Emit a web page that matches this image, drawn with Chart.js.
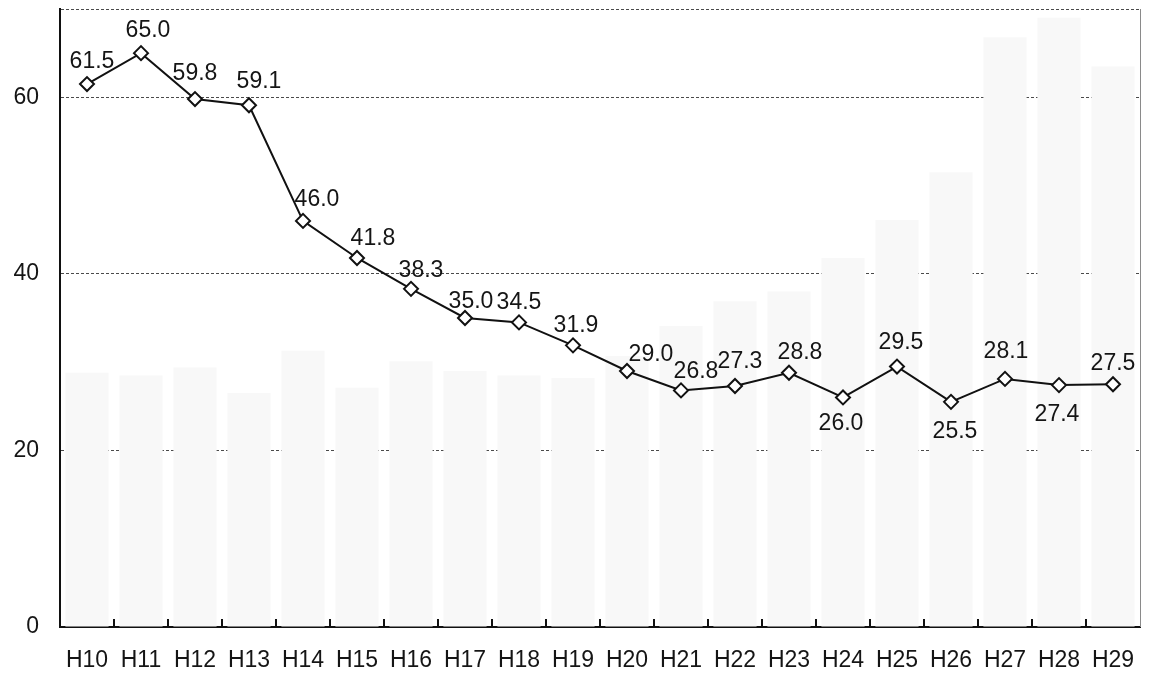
<!DOCTYPE html>
<html>
<head>
<meta charset="utf-8">
<script src="https://cdn.jsdelivr.net/npm/chart.js@4.4.0/dist/chart.umd.min.js"></script>
<style>
html,body{margin:0;padding:0;background:#fff;}
#wrap{width:1149px;height:676px;position:relative;}
</style>
</head>
<body>
<div id="wrap"><canvas id="chart"></canvas></div>
<script>
const years=["H10","H11","H12","H13","H14","H15","H16","H17","H18","H19","H20","H21","H22","H23","H24","H25","H26","H27","H28","H29"];
const rates=[61.5,65.0,59.8,59.1,46.0,41.8,38.3,35.0,34.5,31.9,29.0,26.8,27.3,28.8,26.0,29.5,25.5,28.1,27.4,27.5];
// faint columns showing through from the back of the sheet
const backBars=[28.8,28.5,29.4,26.5,31.3,27.1,30.1,29.0,28.5,28.2,30.7,34.1,36.9,38.0,41.8,46.1,51.5,66.8,69.0,63.5];
const yMax=70;
const yStep=20;

// where each value label sits relative to its marker
const labelDx=[5,7,0,10,14,16,10,6,0,3,24,15,5,11,-2,4,4,1,-2,0];
const labelDy=[-22,-22,-25,-24,-21,-19,-18,-16,-20,-20,-16,-19,-24,-20,26,-24,30,-27,30,-21];

const font="'Liberation Sans', Arial, sans-serif";
const textColor="#151515";

const valueLabels={
    id:'valueLabels',
    afterDatasetsDraw(c){
        const meta=c.getDatasetMeta(1);
        const ctx=c.ctx;
        ctx.save();
        ctx.font="23px "+font;
        ctx.fillStyle=textColor;
        ctx.textAlign="center";
        ctx.textBaseline="middle";
        meta.data.forEach((p,i)=>{
            ctx.fillText(rates[i].toFixed(1),p.x+labelDx[i],p.y+labelDy[i]);
        });
        ctx.restore();
    }
};

// short inward ticks between categories and the right frame line
const frame={
    id:'frame',
    afterDraw(c){
        const x=c.scales.x, a=c.chartArea, ctx=c.ctx;
        ctx.save();
        ctx.strokeStyle="#111";
        ctx.lineWidth=2;
        for(let i=1;i<years.length;i++){
            const px=Math.round((x.getPixelForValue(i-1)+x.getPixelForValue(i))/2);
            ctx.beginPath();ctx.moveTo(px,a.bottom);ctx.lineTo(px,a.bottom-8);ctx.stroke();
        }
        ctx.strokeStyle="#8a8a8a";
        ctx.lineWidth=1;
        ctx.beginPath();ctx.moveTo(a.right+0.5,a.top);ctx.lineTo(a.right+0.5,a.bottom);ctx.stroke();
        ctx.restore();
    }
};

function noPad(s){s.paddingTop=0;s.paddingBottom=0;s.paddingLeft=0;s.paddingRight=0;}

new Chart(document.getElementById("chart"),{
    data:{
        labels:years,
        datasets:[
            {type:'bar',data:backBars,backgroundColor:'#f8f8f8',barPercentage:0.8,categoryPercentage:1,order:2},
            {type:'line',data:rates,borderColor:'#111',borderWidth:2,tension:0,
             pointStyle:'rectRot',pointRadius:7,pointHoverRadius:7,pointBackgroundColor:'#fff',
             pointBorderColor:'#111',pointBorderWidth:2,order:1}
        ]
    },
    options:{
        responsive:true,
        maintainAspectRatio:false,
        animation:false,
        layout:{padding:{top:7,right:4,left:0,bottom:0}},
        plugins:{legend:{display:false},tooltip:{enabled:false}},
        scales:{
            x:{
                offset:true,
                grid:{display:true,drawOnChartArea:false,drawTicks:false,color:'transparent'},
                border:{display:true,color:'#111',width:2},
                ticks:{color:textColor,font:{family:font,size:23},padding:20,maxRotation:0,autoSkip:false},
                afterFit(s){s.height=49;noPad(s);}
            },
            y:{
                min:0,max:yMax,
                grid:{drawTicks:false,color:ctx=>ctx.tick&&ctx.tick.value===0?'transparent':'#4a4a4a',lineWidth:1},
                border:{display:true,color:'#111',width:2,dash:[3,2]},
                ticks:{stepSize:yStep,color:textColor,font:{family:font,size:23},padding:21,
                       callback:v=>v%yStep===0?v:''},
                afterFit(s){s.width=60;noPad(s);}
            }
        }
    },
    plugins:[valueLabels,frame]
});
</script>
</body>
</html>
